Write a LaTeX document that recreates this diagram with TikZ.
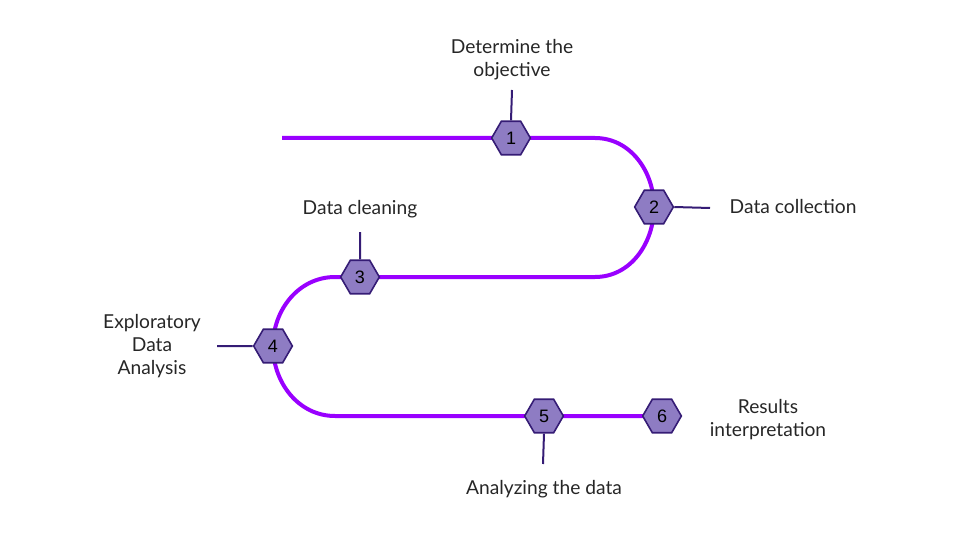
\documentclass[tikz,border=0pt]{standalone}
\usepackage{fontspec}
\setmainfont{Lato}
\newfontfamily\numfont{Liberation Sans}
\usetikzlibrary{shapes.geometric,backgrounds}

\definecolor{track_purple}{HTML}{9900FF}
\definecolor{hex_fill}{HTML}{8E7CC3}
\definecolor{hex_border}{HTML}{351C75}

\begin{document}
\begin{tikzpicture}[
    x=0.75pt, y=0.75pt,
% Block styles
    stage/.style={regular polygon, regular polygon sides=6, draw=hex_border, fill=hex_fill, line width=1.2pt, minimum size=29pt, inner sep=0pt, font=\numfont\fontsize{13.5}{16}\selectfont},
    stagetext/.style={align=center, text=black!85, font=\fontsize{14.4}{17.2}\selectfont},
    track/.style={line width=3pt, track_purple},
    leader/.style={line width=1.5pt, hex_border}
]
\useasboundingbox (0,0) rectangle (960,540);

% 1. Stages along the road
\node[stage] (n1) at (511, 402) {1};
\node[stage] (n2) at (654, 333) {2};
\node[stage] (n3) at (360, 263) {3};
\node[stage] (n4) at (273, 194) {4};
\node[stage] (n5) at (544, 124) {5};
\node[stage] (n6) at (662, 124) {6};

% 2. The road itself (behind the stages)
\coordinate (start) at (282, 402);
\coordinate (bendA) at (595, 402);
\coordinate (bendB) at (595, 263);
\coordinate (bendC) at (335, 263);
\coordinate (bendD) at (335, 124);
\begin{scope}[on background layer]
\draw[track] (start) -- (n1.center) -- (bendA) to[out=0, in=90] (n2.center)
    to[out=-90, in=0] (bendB) -- (n3.center) -- (bendC) to[out=180, in=90] (n4.center)
    to[out=-90, in=180] (bendD) -- (n5.center) -- (n6.center);
\end{scope}

% 3. Labels and their leaders
\node[stagetext] (t1) at (512, 480) {Determine the\\objective};
\coordinate (e1) at (512, 450);
\draw[leader] (n1.north) -- (e1);

\node[stagetext, anchor=west] (t2) at (725, 333) {Data collection};
\coordinate (e2) at (710, 332);
\draw[leader] (n2.east) -- (e2);

\node[stagetext] (t3) at (360, 331) {Data cleaning};
\coordinate (e3) at (360, 308);
\draw[leader] (n3.north) -- (e3);

\node[stagetext] (t4) at (152, 194) {Exploratory\\Data\\Analysis};
\coordinate (e4) at (217, 194);
\draw[leader] (n4.west) -- (e4);

\node[stagetext] (t5) at (544, 51) {Analyzing the data};
\coordinate (e5) at (543, 76);
\draw[leader] (n5.south) -- (e5);

\node[stagetext] (t6) at (768, 120) {Results\\interpretation};

\end{tikzpicture}
\end{document}
